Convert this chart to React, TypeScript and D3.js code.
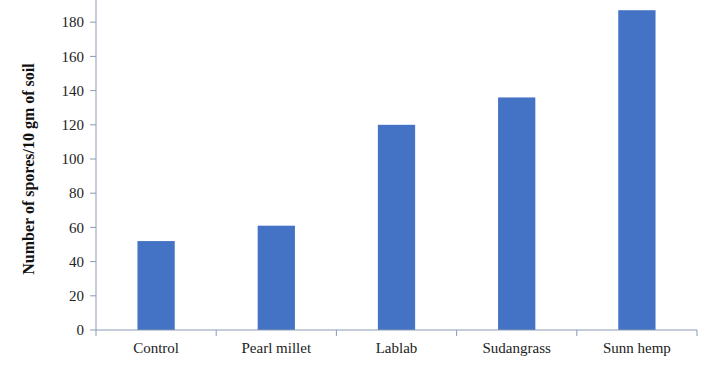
import React from "react";
import * as d3 from "d3";

const categories = ["Control", "Pearl millet", "Lablab", "Sudangrass", "Sunn hemp"];
const values = [52, 61, 120, 136, 187];
const yTicks = [0, 20, 40, 60, 80, 100, 120, 140, 160, 180];
const yLabel = "Number of spores/10 gm of soil";

export default function App() {
  const W = 710, H = 375;
  const x0 = 96, x1 = 697, yZero = 330;
  const x = d3.scaleBand<string>().domain(categories).range([x0, x1]).paddingInner(0.69).paddingOuter(0.345);
  const y = d3.scaleLinear().domain([0, 200]).range([yZero, yZero - 342]);
  const axisColor = "#8a9bb5";
  const font = "'Liberation Serif', 'Times New Roman', serif";
  const step = (x1 - x0) / categories.length;
  return (
    <svg width={W} height={H} style={{ position: "absolute", left: 0, top: 0, background: "#fff" }} fontFamily={font}>
      <rect x={0} y={0} width={W} height={H} fill="#fff" />
      {categories.map((c, i) => (
        <rect key={c} x={x(c)} y={y(values[i])} width={x.bandwidth()} height={yZero - y(values[i])} fill="#4472C4" />
      ))}
      <line x1={x0} x2={x0} y1={y(200)} y2={yZero} stroke={axisColor} strokeWidth={1} />
      <line x1={x0} x2={x1} y1={yZero} y2={yZero} stroke={axisColor} strokeWidth={1} />
      {yTicks.map((t) => (
        <g key={t}>
          <line x1={x0 - 6} x2={x0} y1={y(t)} y2={y(t)} stroke={axisColor} />
          <text x={x0 - 12} y={y(t)} dy="0.35em" textAnchor="end" fontSize={15} fill="#222">{t}</text>
        </g>
      ))}
      {d3.range(categories.length + 1).map((i) => (
        <line key={i} x1={x0 + i * step} x2={x0 + i * step} y1={yZero} y2={yZero + 6} stroke={axisColor} />
      ))}
      {categories.map((c) => (
        <text key={c} x={(x(c) as number) + x.bandwidth() / 2} y={353} textAnchor="middle" fontSize={15} fill="#222">{c}</text>
      ))}
      <text transform={`translate(34,169) rotate(-90)`} textAnchor="middle" fontSize={16} fontWeight="bold" fill="#111">{yLabel}</text>
    </svg>
  );
}
